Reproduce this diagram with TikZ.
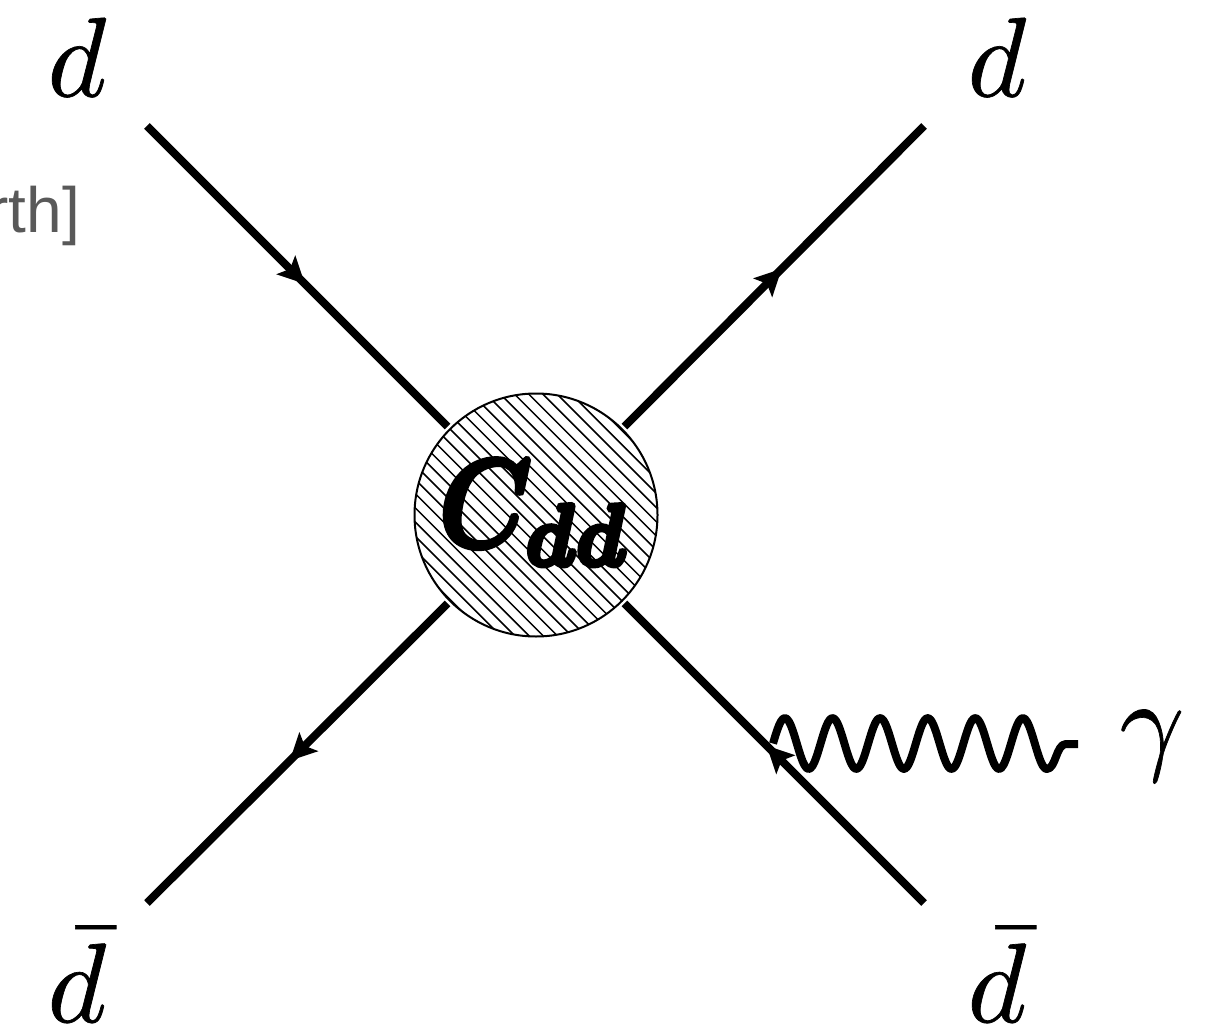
\documentclass[tikz,border=0pt]{standalone}
\usepackage{fontspec}
\usepackage{amsmath}
\newfontfamily\grayfont{Liberation Sans}
\usetikzlibrary{arrows.meta,decorations.markings}
\newcommand{\heavytext}[2]{\special{pdf:code 2 Tr #1 w}#2\special{pdf:code 0 Tr 1 w}}
\tikzset{
  x=1pt,y=-1pt,
  fermion/.style={line width=8pt,line cap=butt,postaction={decorate},
    decoration={markings,mark=at position 0.525 with {\arrow[line width=0pt]{Stealth[length=27pt,width=27pt,inset=6pt]}}}},
  photon/.style={line width=8pt,line join=round},
  lab/.style={inner sep=0pt,outer sep=0pt},
  blobstyle/.style={circle,draw,line width=2pt,minimum size=243pt,inner sep=0pt,outer sep=3.5pt,fill=white},
  hatchline/.style={line width=1.5pt},
}
\begin{document}
\begin{tikzpicture}
\useasboundingbox (0,0) rectangle (1220,1032);
\begin{scope}
\clip (0,0) rectangle (1220,1032);
\node[lab,anchor=east,text=black!65] (note) at (80,216) {\grayfont\fontsize{64}{64}\selectfont rth]};
\end{scope}
\node[blobstyle,path picture={
  \foreach \i in {-14,...,14}
    \draw[hatchline,shift={(path picture bounding box.center)}]
      ({\i*14.2-140},-140) -- ({\i*14.2+140},140);
}] (blob) at (536,515) {};
\node[lab] (cdd) at (535,513) {\scalebox{10.5}[12.5]{\heavytext{0.4}{$\boldsymbol{C_{dd}}$}}};
\coordinate (tl) at (147,126);
\coordinate (tr) at (924,126);
\coordinate (bl) at (147,903);
\coordinate (br) at (924,903);
\draw[fermion] (tl) -- (blob.135);
\draw[fermion] (blob.45) -- (tr);
\draw[fermion] (blob.225) -- (bl);
\draw[fermion] (br) -- (blob.315);
\coordinate (gs) at (773,743.5);
\coordinate (gt) at (1066,744);
\coordinate (ge) at (1078,744);
\draw[photon] plot[domain=0:5.75,samples=140,smooth] ([shift={(gs)}]{\x*47.6},{-25.5*sin(360*\x)})
  .. controls (1056,769) and (1056,744) .. (gt) -- (ge);
\node[lab] (d1) at (77,57) {\scalebox{11.3}{\heavytext{0.06}{$d$}}};
\node[lab] (d2) at (997,57) {\scalebox{11.3}{\heavytext{0.06}{$d$}}};
\node[lab,anchor=south] (d3) at (77,1022) {\scalebox{11.3}{\heavytext{0.06}{$\bar d$}}};
\node[lab,anchor=south] (d4) at (997,1022) {\scalebox{11.3}{\heavytext{0.06}{$\bar d$}}};
\node[lab] (g) at (1152,746) {\scalebox{11.3}{\heavytext{0.06}{$\gamma$}}};
\end{tikzpicture}
\end{document}
